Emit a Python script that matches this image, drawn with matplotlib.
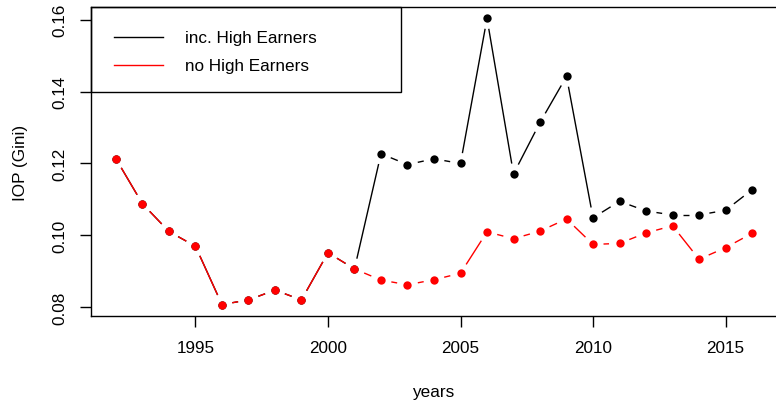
import numpy as np
import matplotlib
matplotlib.use("Agg")
import matplotlib.pyplot as plt
from matplotlib.patches import Rectangle
from matplotlib.lines import Line2D

# Inequality of opportunity (Gini) by year
years = list(range(1992, 2017))
iop_inc_high = [0.1213, 0.1088, 0.1011, 0.0970, 0.0808, 0.0821, 0.0848, 0.0821,
                0.0952, 0.0907, 0.1227, 0.1197, 0.1213, 0.1200, 0.1603, 0.1171,
                0.1314, 0.1442, 0.1049, 0.1095, 0.1068, 0.1057, 0.1057, 0.1070,
                0.1127]
iop_no_high = [0.1213, 0.1088, 0.1011, 0.0970, 0.0808, 0.0821, 0.0848, 0.0821,
               0.0952, 0.0907, 0.0876, 0.0863, 0.0877, 0.0895, 0.1010, 0.0991,
               0.1012, 0.1046, 0.0975, 0.0978, 0.1007, 0.1027, 0.0934, 0.0966,
               0.1006]
x_ticks = [1995, 2000, 2005, 2010, 2015]
y_ticks = [0.08, 0.10, 0.12, 0.14, 0.16]
series_labels = ["inc. High Earners", "no High Earners"]
series_colors = ["black", "#ff0000"]

W, H = 776, 402
FS = 12.3
plt.rcParams['font.family'] = ['Liberation Sans', 'DejaVu Sans']
fig = plt.figure(figsize=(W / 100, H / 100), dpi=100)
ax = fig.add_axes([90.5 / W, (H - 317) / H, (777.5 - 90.5) / W, (317 - 8) / H])

# R-style 4% padding around the data range
def padded(vals):
    lo, hi = min(vals), max(vals)
    d = (hi - lo) * 0.04
    return lo - d, hi + d

ax.set_xlim(*padded(years))
ax.set_ylim(*padded(iop_inc_high + iop_no_high))
ax.set_autoscale_on(False)

GAP = 10.5          # pixels left open around each point (type="b")
PX_W = (777.5 - 90.5)
PX_H = (317 - 8)


def gapped_line(ax, xs, ys, color):
    x0, x1 = ax.get_xlim()
    y0, y1 = ax.get_ylim()
    sx = PX_W / (x1 - x0)   # pixels per data unit
    sy = PX_H / (y1 - y0)
    xs = np.asarray(xs, float)
    ys = np.asarray(ys, float)
    for i in range(len(xs) - 1):
        dx = xs[i + 1] - xs[i]
        dy = ys[i + 1] - ys[i]
        L = np.hypot(dx * sx, dy * sy)
        if L <= 2 * GAP:
            continue
        f = GAP / L
        ax.add_line(Line2D([xs[i] + f * dx, xs[i + 1] - f * dx],
                           [ys[i] + f * dy, ys[i + 1] - f * dy],
                           color=color, lw=1.0, solid_capstyle='butt', zorder=2))
    ax.plot(xs, ys, linestyle='none', marker='o', ms=6.0, mec='none',
            color=color, zorder=3)


gapped_line(ax, years, iop_inc_high, series_colors[0])
gapped_line(ax, years, iop_no_high, series_colors[1])

for s in ax.spines.values():
    s.set_linewidth(1.0)
ax.set_xticks(x_ticks)
ax.set_xticklabels([str(t) for t in x_ticks])
ax.set_yticks(y_ticks)
ax.set_yticklabels([f"{t:.2f}" for t in y_ticks], rotation=90, va='center')
ax.tick_params(axis='both', length=8, width=1.0, labelsize=FS, pad=9,
               colors='black')
ax.tick_params(axis='x', pad=9.5)
ax.set_xlabel("years", fontsize=FS, va='center')
ax.set_ylabel("IOP (Gini)", fontsize=FS, va='center')
ax.xaxis.set_label_coords((433 - 90.5) / PX_W, -(392.5 - 317) / PX_H)
ax.yaxis.set_label_coords(-(90.5 - 20.5) / PX_W, 0.5)

# Legend box in the upper left corner
def fx(px):
    return px / W

def fy(py):
    return 1 - py / H

fig.patches.append(Rectangle((fx(90.5), fy(93)), fx(401) - fx(90.5), fy(8) - fy(93),
                             transform=fig.transFigure, fill=False,
                             edgecolor='black', lw=1.0, zorder=5))
for row_y, lab, col in zip([38, 66], series_labels, series_colors):
    fig.lines.append(Line2D([fx(114), fx(163)], [fy(row_y), fy(row_y)],
                            transform=fig.transFigure, color=col, lw=1.0))
    fig.text(fx(185), fy(row_y), lab, fontsize=FS, va='center', ha='left')

fig.savefig("out.png", dpi=100)
